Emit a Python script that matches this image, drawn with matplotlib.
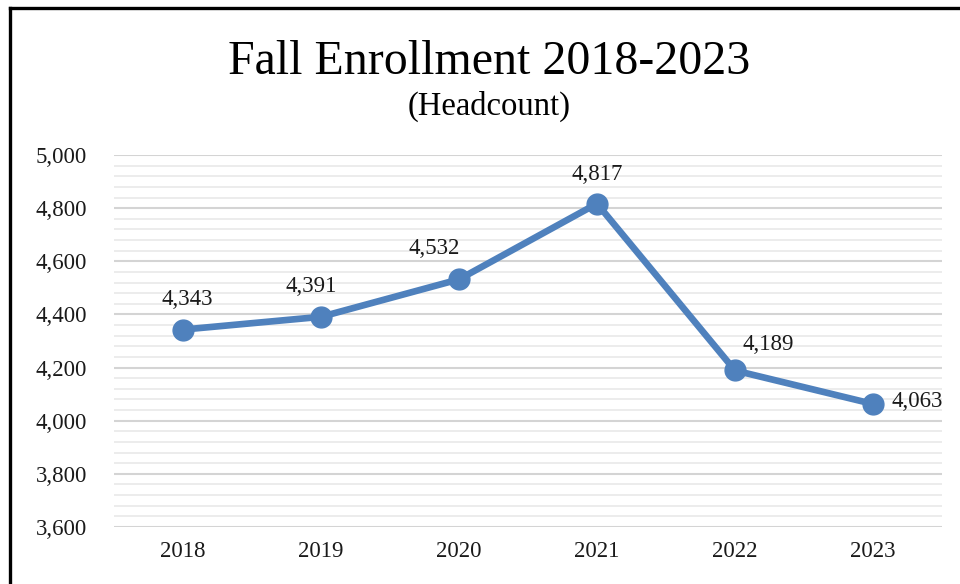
import matplotlib.pyplot as plt
from matplotlib.lines import Line2D
from matplotlib.ticker import MultipleLocator, FuncFormatter

# donnees
years = ['2018', '2019', '2020', '2021', '2022', '2023']
headcount = [4343, 4391, 4532, 4817, 4189, 4063]

# decalage des etiquettes (en points) pour chaque point
label_offsets = [(3, 22), (-7, 22), (-18, 22), (0, 21), (24, 19), (32, 2)]

plt.rcParams['font.family'] = ['Liberation Serif', 'DejaVu Serif']

fig = plt.figure(figsize=(9.6, 5.84), dpi=100)
ax = fig.add_axes([0.11875, 0.0976, 0.8625, 0.637])

x = range(len(years))
ax.plot(x, headcount, color='#4f81bd', lw=4.8, marker='o', markersize=15,
        solid_capstyle='round', zorder=3)

for i, v in enumerate(headcount):
    ax.annotate(f'{v:,}', (i, v), xytext=label_offsets[i], textcoords='offset points',
                ha='center', va='center', fontsize=16.5, color='#1a1a1a')

ax.set_xlim(-0.5, len(years) - 0.5)
ax.set_ylim(3600, 5000)
ax.set_xticks(list(x))
ax.set_xticklabels(years)
ax.yaxis.set_major_locator(MultipleLocator(200))
ax.yaxis.set_minor_locator(MultipleLocator(40))
ax.yaxis.set_major_formatter(FuncFormatter(lambda v, p: f'{int(v):,}'))

ax.grid(axis='y', which='major', color='#d4d4d4', lw=1.5)
ax.grid(axis='y', which='minor', color='#ebebeb', lw=1.3)
ax.set_axisbelow(True)
for s in ax.spines.values():
    s.set_visible(False)
ax.tick_params(axis='both', which='both', length=0, labelsize=16.5, colors='#1a1a1a')
ax.tick_params(axis='y', pad=19.5)
ax.tick_params(axis='x', pad=10)

fig.text(0.51, 0.893, 'Fall Enrollment 2018-2023', ha='center', va='center', fontsize=34.5)
fig.text(0.51, 0.817, '(Headcount)', ha='center', va='center', fontsize=23.5)

# cadre (haut et gauche seulement)
fig.add_artist(Line2D([0.0104, 1.0], [0.9863, 0.9863], color='black', lw=2.4,
                      transform=fig.transFigure))
fig.add_artist(Line2D([0.0104, 0.0104], [0.0, 0.9863], color='black', lw=2.4,
                      transform=fig.transFigure))

fig.savefig('out.png', dpi=100)
